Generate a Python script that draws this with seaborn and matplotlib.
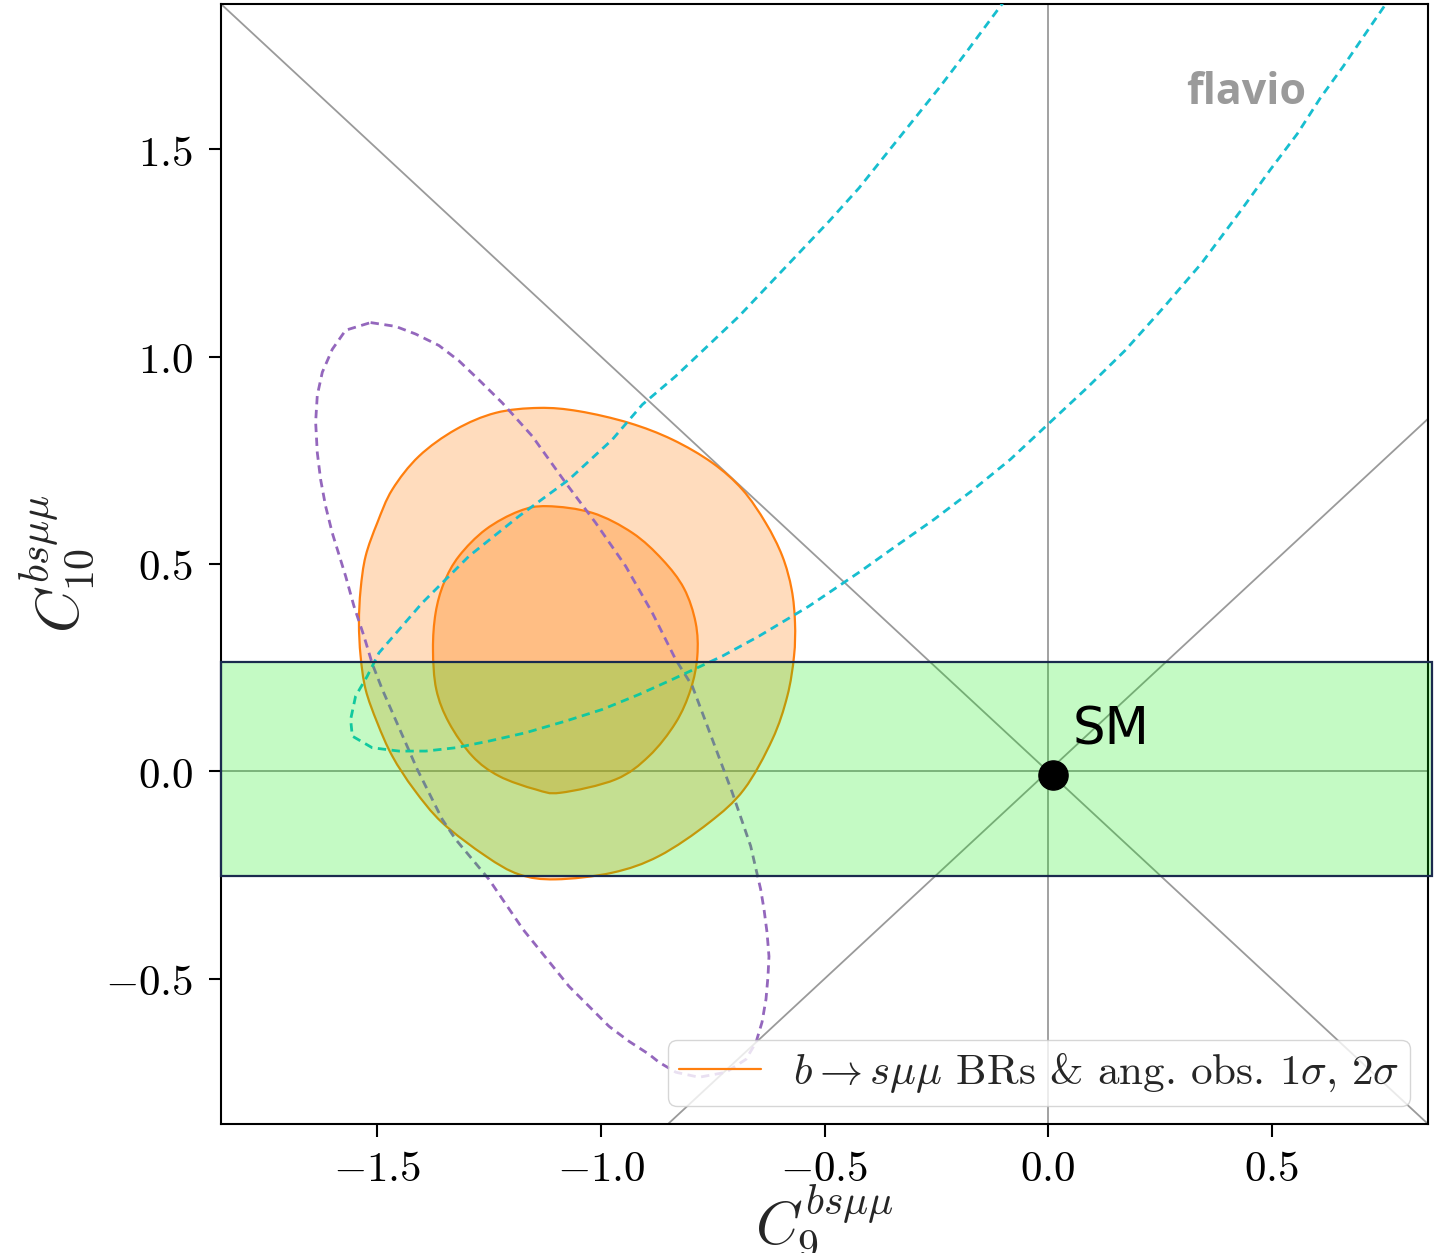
import numpy as np
import pandas as pd
import matplotlib
matplotlib.use("Agg")
import matplotlib.pyplot as plt
import seaborn as sns
from matplotlib.path import Path
from matplotlib.patches import PathPatch, Rectangle
from matplotlib.lines import Line2D

# ---------------- data ----------------
# outer (2 sigma) orange contour
outer_x = [-1.1387, -1.0492, -0.9374, -0.8404, -0.7509, -0.6838, -0.6316, -0.5943,
           -0.5735, -0.5660, -0.5682, -0.5832, -0.6167, -0.6801, -0.7584, -0.8702,
           -0.9747, -1.1014, -1.1834, -1.2580, -1.3550, -1.4183, -1.4668, -1.5004,
           -1.5265, -1.5377, -1.5414, -1.5377, -1.5265, -1.5004, -1.4668, -1.4072,
           -1.3251, -1.2357]
outer_y = [0.8763, 0.8683, 0.8402, 0.8000, 0.7438, 0.6795, 0.5992, 0.5189,
           0.4386, 0.3582, 0.2779, 0.1815, 0.0771, -0.0434, -0.1237, -0.2040,
           -0.2442, -0.2602, -0.2482, -0.2040, -0.1237, -0.0434, 0.0369, 0.1173,
           0.1976, 0.2779, 0.3582, 0.4386, 0.5189, 0.5992, 0.6795, 0.7598,
           0.8241, 0.8643]
# inner (1 sigma) orange contour
inner_x = [-1.1201, -1.0194, -0.9299, -0.8628, -0.8143, -0.7882, -0.7845, -0.7994,
           -0.8330, -0.8926, -0.9672, -1.0902, -1.1462, -1.2282, -1.2878, -1.3400,
           -1.3684, -1.3758, -1.3699, -1.3512, -1.3177, -1.2580, -1.1834]
inner_y = [0.6394, 0.6233, 0.5751, 0.5108, 0.4410, 0.3582, 0.2779, 0.1976,
           0.1173, 0.0369, -0.0193, -0.0514, -0.0434, -0.0112, 0.0369, 0.1173,
           0.1976, 0.2940, 0.3823, 0.4546, 0.5189, 0.5831, 0.6273]
# purple dashed contour
purple_x = [-1.5153, -1.4594, -1.4146, -1.3624, -1.3177, -1.2729, -1.2207, -1.1536,
            -1.0790, -1.0119, -0.9448, -0.8852, -0.8330, -0.7957, -0.7509, -0.7062,
            -0.6652, -0.6428, -0.6353, -0.6286, -0.6242, -0.6264, -0.6309, -0.6398,
            -0.6532, -0.6756, -0.7204, -0.7808, -0.8322, -0.8702, -0.8926, -0.9374,
            -0.9821, -1.0268, -1.0716, -1.1745, -1.2506, -1.2878, -1.3251, -1.3550,
            -1.3848, -1.4109, -1.4370, -1.4631, -1.4892, -1.5116, -1.5302, -1.5526,
            -1.5712, -1.6011, -1.6160, -1.6272, -1.6346, -1.6383, -1.6346, -1.6234,
            -1.6011, -1.5712]
purple_y = [1.0820, 1.0728, 1.0544, 1.0267, 0.9898, 0.9437, 0.8884, 0.8080,
            0.6956, 0.5992, 0.4948, 0.3823, 0.2699, 0.2056, 0.0771, -0.0514,
            -0.1799, -0.2843, -0.3325, -0.3880, -0.4458, -0.4940, -0.5494, -0.6048,
            -0.6530, -0.6940, -0.7253, -0.7373, -0.7253, -0.7012, -0.6819, -0.6506,
            -0.6145, -0.5663, -0.5181, -0.3807, -0.2602, -0.2120, -0.1639, -0.1157,
            -0.0514, 0.0048, 0.0690, 0.1333, 0.1976, 0.2594, 0.3261, 0.3984,
            0.4707, 0.5748, 0.6394, 0.7039, 0.7685, 0.8423, 0.9068, 0.9622,
            1.0175, 1.0636]
# cyan dashed contour (open, leaves the top of the plot twice)
cyan_x = [-0.0680, -0.1208, -0.1842, -0.2438, -0.3035, -0.3632, -0.4228, -0.4899,
          -0.5570, -0.6242, -0.6913, -0.7659, -0.8330, -0.9075, -0.9747, -1.0716,
          -1.1834, -1.2953, -1.3997, -1.4966, -1.5228, -1.5489, -1.5600, -1.5563,
          -1.5116, -1.4519, -1.3922, -1.3251, -1.2506, -1.1685, -1.0790, -0.9970,
          -0.9150, -0.8404, -0.7286, -0.6465, -0.5347, -0.4181, -0.3411, -0.2555,
          -0.1698, -0.0842, 0.0014, 0.0870, 0.1726, 0.2582, 0.3439, 0.4295,
          0.4979, 0.5579, 0.6093, 0.6606, 0.7060, 0.7505, 0.7850]
cyan_y = [1.9000, 1.8240, 1.7317, 1.6474, 1.5671, 1.4867, 1.4064, 1.3261,
          1.2498, 1.1735, 1.0972, 1.0209, 0.9526, 0.8843, 0.8000, 0.7036,
          0.6153, 0.5189, 0.4064, 0.2859, 0.2297, 0.1815, 0.1253, 0.0851,
          0.0570, 0.0490, 0.0490, 0.0570, 0.0731, 0.0932, 0.1213, 0.1494,
          0.1855, 0.2217, 0.2779, 0.3261, 0.3984, 0.4833, 0.5425, 0.6070,
          0.6769, 0.7522, 0.8383, 0.9244, 1.0150, 1.1180, 1.2256, 1.3493,
          1.4515, 1.5375, 1.6236, 1.7000, 1.7720, 1.8420, 1.9000]
band_lo, band_hi = -0.253, 0.263
band_x0, band_x1 = -1.85, 0.86
sm_x, sm_y = 0.012, -0.008
xticks = [-1.5, -1.0, -0.5, 0.0, 0.5]
yticks = [-0.5, 0.0, 0.5, 1.0, 1.5]
xlim = (-1.85, 0.85)
ylim = (-0.85, 1.85)
legend_label = r"$b\to s\mu\mu$ BRs & ang. obs. $1\sigma$, $2\sigma$"

# ---------------- style ----------------
sns.set_style("ticks")
plt.rcParams.update({
    "mathtext.fontset": "cm",
    "font.family": ["DejaVu Sans"],
    "axes.edgecolor": "black",
    "xtick.color": "black",
    "ytick.color": "black",
    "axes.linewidth": 1.5,
})

ORANGE = "#ff7f0e"
PURPLE = "#9467bd"
CYAN = "#17becf"
GRAY = "#9a9a9a"


def closed_smooth_path(xs, ys):
    P = np.column_stack([xs, ys])
    n = len(P)
    verts = [P[0]]
    codes = [Path.MOVETO]
    for i in range(n):
        p0, p1, p2, p3 = P[i - 1], P[i], P[(i + 1) % n], P[(i + 2) % n]
        verts += [p1 + (p2 - p0) / 6.0, p2 - (p3 - p1) / 6.0, p2]
        codes += [Path.CURVE4] * 3
    return Path(np.array(verts), codes)


fig = plt.figure(figsize=(14.35, 12.53), dpi=100)
ax = fig.add_axes([221 / 1435, 1 - 1124 / 1253, (1428 - 221) / 1435, (1124 - 4) / 1253])

# reference lines
for kw in (dict(slope=1), dict(slope=-1)):
    ax.axline((0, 0), color=GRAY, lw=1.3, zorder=1, **kw)
ax.axhline(0, color=GRAY, lw=1.3, zorder=1)
ax.axvline(0, color=GRAY, lw=1.3, zorder=1)

# orange contours
ax.add_patch(PathPatch(closed_smooth_path(outer_x, outer_y), facecolor=ORANGE,
                       alpha=0.27, edgecolor="none", zorder=2))
ax.add_patch(PathPatch(closed_smooth_path(inner_x, inner_y), facecolor=ORANGE,
                       alpha=0.32, edgecolor="none", zorder=2))
for xs, ys in ((outer_x, outer_y), (inner_x, inner_y)):
    ax.add_patch(PathPatch(closed_smooth_path(xs, ys), facecolor="none",
                           edgecolor=ORANGE, lw=1.6, zorder=2.5))

# dashed contours
df_p = pd.DataFrame({"x": purple_x + purple_x[:1], "y": purple_y + purple_y[:1]})
sns.lineplot(data=df_p, x="x", y="y", sort=False, estimator=None, ax=ax,
             color=PURPLE, lw=2.0, linestyle=(0, (3, 2)), zorder=3)
df_c = pd.DataFrame({"x": cyan_x, "y": cyan_y})
sns.lineplot(data=df_c, x="x", y="y", sort=False, estimator=None, ax=ax,
             color=CYAN, lw=2.0, linestyle=(0, (3, 2)), zorder=3)

# green band
ax.add_patch(Rectangle((band_x0, band_lo), band_x1 - band_x0, band_hi - band_lo,
                       facecolor=(0.0, 0.93, 0.0, 0.23), edgecolor="#1b2a4e",
                       lw=1.6, zorder=4, clip_on=False))

# SM point
ax.plot([sm_x], [sm_y], "o", color="black", ms=21, zorder=6)
ax.text(0.055, 0.065, "SM", fontsize=37, family="DejaVu Sans", color="black",
        ha="left", va="baseline", zorder=6)

# watermark
ax.text(0.899, 0.9107, "flavio", transform=ax.transAxes, ha="right", va="baseline",
        fontsize=31, fontweight="bold", family=["Open Sans", "DejaVu Sans"],
        color="#9a9a9a", zorder=5)

ax.set_xlim(*xlim)
ax.set_ylim(*ylim)
ax.set_xticks(xticks, labels=[f"${v:.1f}$" for v in xticks])
ax.set_yticks(yticks, labels=[f"${v:.1f}$" for v in yticks])
ax.tick_params(axis="both", which="major", labelsize=31, length=9, width=1.5,
               direction="out")
ax.tick_params(axis="x", pad=8)
ax.tick_params(axis="y", pad=11)
ax.set_xlabel(r"$C_9^{bs\mu\mu}$", fontsize=43, labelpad=-5)
ax.set_ylabel(r"$C_{10}^{bs\mu\mu}$", fontsize=43, labelpad=6)

handle = Line2D([0], [0], color=ORANGE, lw=1.6)
leg = ax.legend(handles=[handle], labels=[legend_label], loc="lower right",
                prop={"family": "cmr10", "size": 31}, handlelength=1.9,
                borderpad=0.25, borderaxespad=0.42, handletextpad=0.75,
                framealpha=0.8, fancybox=True, edgecolor="0.8")
leg.set_zorder(10)

fig.savefig("out.png", dpi=100)
